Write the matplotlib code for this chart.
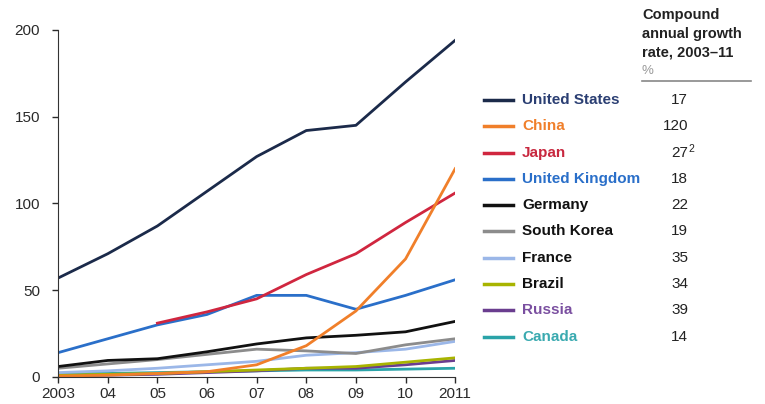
import matplotlib.pyplot as plt
from matplotlib.lines import Line2D

plt.rcParams['font.family'] = ['Liberation Sans', 'DejaVu Sans']

years = [2003, 2004, 2005, 2006, 2007, 2008, 2009, 2010, 2011]
year_labels = ['2003', '04', '05', '06', '07', '08', '09', '10', '2011']

countries = ['United States', 'China', 'Japan', 'United Kingdom', 'Germany',
             'South Korea', 'France', 'Brazil', 'Russia', 'Canada']
cagr = ['17', '120', '27', '18', '22', '19', '35', '34', '39', '14']

us = [57, 71, 87, 107, 127, 142, 145, 170, 194]
china = [0.5, 1, 2, 3, 7, 18, 38, 68, 120]
japan = [None, None, 31, 37.5, 45, 59, 71, 89, 106]
uk = [14, 22, 30, 36, 47, 47, 39, 47, 56]
germany = [6, 9.5, 10.5, 14.5, 19, 22.5, 24, 26, 32]
south_korea = [5, 7.5, 10, 13, 16, 15, 13.5, 18.5, 22]
france = [2.5, 3.5, 5, 7, 9, 12.5, 14, 16, 20.5]
brazil = [1, 1.5, 2, 3, 4, 5, 6, 8.5, 11]
russia = [0.5, 1, 1.5, 2.5, 3.5, 5, 5, 7, 9.5]
canada = [2, 2, 2.5, 3, 3.5, 4, 4, 4.5, 5]

series = [us, china, japan, uk, germany, south_korea, france, brazil, russia, canada]
line_colors = ['#1b2a4a', '#f07f2a', '#d0263f', '#2a6fc9', '#111111',
               '#8c8c8c', '#9bb7e8', '#a8b400', '#6a3d8f', '#2aa3a8']
text_colors = ['#2b3f73', '#f07f2a', '#c8283f', '#2a6fc9', '#111111',
               '#111111', '#111111', '#111111', '#7a4fa0', '#3aaab0']

fig = plt.figure(figsize=(7.65, 4.04), dpi=100)
ax = fig.add_axes([0.076, 0.067, 0.519, 0.859])

# draw from bottom up so US sits on top
for vals, col in reversed(list(zip(series, line_colors))):
    xs = [y for y, v in zip(years, vals) if v is not None]
    ys = [v for v in vals if v is not None]
    ax.plot(xs, ys, color=col, lw=2, solid_joinstyle='round')

ax.set_xlim(2003, 2011)
ax.set_ylim(0, 200)
ax.set_yticks([0, 50, 100, 150, 200])
ax.set_xticks(years)
ax.set_xticklabels(year_labels)
for s in ['top', 'right']:
    ax.spines[s].set_visible(False)
ax.spines['left'].set_color('#333333')
ax.spines['bottom'].set_color('#333333')
ax.tick_params(axis='both', labelsize=11, colors='#2a2a2a', length=4, width=1)
ax.tick_params(axis='y', pad=9)
ax.tick_params(axis='x', pad=3)

W, H = 765, 404

def fx(px):
    return px / W

def fy(py):
    return 1 - py / H

# legend column header
fig.text(fx(642), fy(8), 'Compound\nannual growth\nrate, 2003\u201311', fontsize=10.5,
         fontweight='bold', color='#222222', va='top', ha='left', linespacing=1.45)
fig.text(fx(642), fy(71), '%', fontsize=9.5, color='#999999', va='center', ha='left')
fig.add_artist(Line2D([fx(642), fx(751)], [fy(81), fy(81)], color='#888888', lw=1.2))

row0 = 100
step = 26.3
for i, (name, val, lc, tc) in enumerate(zip(countries, cagr, line_colors, text_colors)):
    y = row0 + i * step
    fig.add_artist(Line2D([fx(484), fx(513)], [fy(y), fy(y)], color=lc, lw=2.5))
    fig.text(fx(522), fy(y), name, fontsize=11, fontweight='bold', color=tc,
             va='center', ha='left')
    fig.text(fx(688), fy(y), val, fontsize=11, color='#222222', va='center', ha='right')
    if name == 'Japan':
        fig.text(fx(688), fy(y + 1), '2', fontsize=7.5, color='#222222', va='bottom', ha='left')

fig.savefig('out.png', dpi=100)
